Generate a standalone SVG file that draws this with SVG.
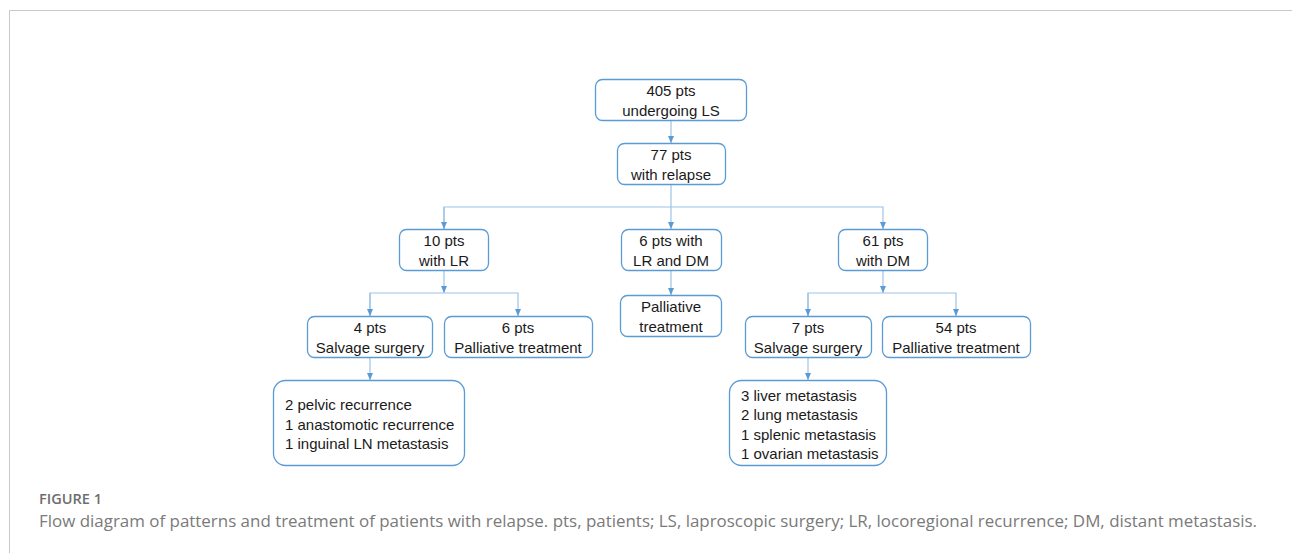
<svg xmlns="http://www.w3.org/2000/svg" width="1292" height="553" viewBox="0 0 1292 553">
<defs>
<style>
.box{fill:#fff;stroke:#5b9bd5;stroke-width:1.3}
.t{font-family:"Liberation Sans",Arial,sans-serif;font-size:15px;fill:#1a1a1a;text-anchor:middle}
.tl{font-family:"Liberation Sans",Arial,sans-serif;font-size:15px;fill:#1a1a1a}
.c{fill:none;stroke:#9dc3e6;stroke-width:1.2}
.fig{font-family:"Open Sans","Liberation Sans",sans-serif;font-size:14px;font-weight:600;fill:#6e6e6e}
.cap{font-family:"Open Sans","Liberation Sans",sans-serif;font-size:16px;fill:#7a7a7a}
</style>
<marker id="ah" markerWidth="7" markerHeight="6" refX="7" refY="3" orient="auto" markerUnits="userSpaceOnUse">
<path d="M0,0 L7,3 L0,6 Z" fill="#5b9bd5"/>
</marker>
</defs>
<rect width="1292" height="553" fill="#fff"/>
<path d="M9.5,553 V10.5 H1292" fill="none" stroke="#c8c8c8" stroke-width="1"/>

<g id="connectors">
<path class="c" d="M671,120 V143" marker-end="url(#ah)"/>
<path class="c" d="M671,184 V229" marker-end="url(#ah)"/>
<path class="c" d="M444,229 V207 H883 V229" marker-end="url(#ah)"/>
<path class="c" d="M444,207 V229" marker-end="url(#ah)"/>
<path class="c" d="M444,271 V293" marker-end="url(#ah)"/>
<path class="c" d="M370,316 V293 H518 V316" marker-end="url(#ah)"/>
<path class="c" d="M370,293 V316" marker-end="url(#ah)"/>
<path class="c" d="M671,271 V295" marker-end="url(#ah)"/>
<path class="c" d="M883,271 V293" marker-end="url(#ah)"/>
<path class="c" d="M808,316 V293 H956 V316" marker-end="url(#ah)"/>
<path class="c" d="M808,293 V316" marker-end="url(#ah)"/>
<path class="c" d="M370,358 V380" marker-end="url(#ah)"/>
<path class="c" d="M808,358 V380" marker-end="url(#ah)"/>
</g>

<g id="n405">
<rect class="box" x="595.5" y="79.5" width="151" height="41" rx="7"/>
<text class="t" x="671" y="96">405 pts</text>
<text class="t" x="671" y="116">undergoing LS</text>
</g>
<g id="n77">
<rect class="box" x="617.5" y="143.5" width="108" height="41" rx="7"/>
<text class="t" x="671" y="160">77 pts</text>
<text class="t" x="671" y="180">with relapse</text>
</g>
<g id="nLR">
<rect class="box" x="399.5" y="229.5" width="89" height="41" rx="7"/>
<text class="t" x="444" y="246">10 pts</text>
<text class="t" x="444" y="266">with LR</text>
</g>
<g id="nLRDM">
<rect class="box" x="621.5" y="229.5" width="100" height="41" rx="7"/>
<text class="t" x="671" y="246">6 pts with</text>
<text class="t" x="671" y="266">LR and DM</text>
</g>
<g id="nDM">
<rect class="box" x="838.5" y="229.5" width="89" height="41" rx="7"/>
<text class="t" x="883" y="246">61 pts</text>
<text class="t" x="883" y="266">with DM</text>
</g>
<g id="nLRsurg">
<rect class="box" x="307.5" y="316.5" width="125" height="41" rx="7"/>
<text class="t" x="370" y="333">4 pts</text>
<text class="t" x="370" y="353">Salvage surgery</text>
</g>
<g id="nLRpall">
<rect class="box" x="444.5" y="316.5" width="148" height="41" rx="7"/>
<text class="t" x="518" y="333">6 pts</text>
<text class="t" x="518" y="353">Palliative treatment</text>
</g>
<g id="nLRDMpall">
<rect class="box" x="620.5" y="295.5" width="101" height="41" rx="7"/>
<text class="t" x="671" y="312">Palliative</text>
<text class="t" x="671" y="332">treatment</text>
</g>
<g id="nDMsurg">
<rect class="box" x="745.5" y="316.5" width="126" height="41" rx="7"/>
<text class="t" x="808" y="333">7 pts</text>
<text class="t" x="808" y="353">Salvage surgery</text>
</g>
<g id="nDMpall">
<rect class="box" x="882.5" y="316.5" width="148" height="41" rx="7"/>
<text class="t" x="956" y="333">54 pts</text>
<text class="t" x="956" y="353">Palliative treatment</text>
</g>
<g id="nLRsites">
<rect class="box" x="273.5" y="380.5" width="191" height="85" rx="12"/>
<text class="tl" x="285" y="410">2 pelvic recurrence</text>
<text class="tl" x="285" y="430">1 anastomotic recurrence</text>
<text class="tl" x="285" y="449">1 inguinal LN metastasis</text>
</g>
<g id="nDMsites">
<rect class="box" x="729.5" y="380.5" width="157" height="85" rx="12"/>
<text class="tl" x="741" y="401">3 liver metastasis</text>
<text class="tl" x="741" y="420">2 lung metastasis</text>
<text class="tl" x="741" y="440">1 splenic metastasis</text>
<text class="tl" x="741" y="459">1 ovarian metastasis</text>
</g>

<text class="fig" x="39" y="504" textLength="63" lengthAdjust="spacingAndGlyphs">FIGURE 1</text>
<text class="cap" x="39" y="527" textLength="1218" lengthAdjust="spacingAndGlyphs">Flow diagram of patterns and treatment of patients with relapse. pts, patients; LS, laproscopic surgery; LR, locoregional recurrence; DM, distant metastasis.</text>
</svg>
